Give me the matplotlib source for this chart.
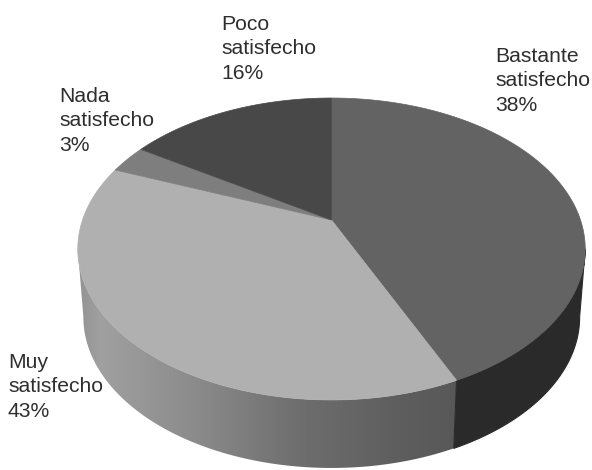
import numpy as np
import matplotlib
matplotlib.use("Agg")
import matplotlib.pyplot as plt
from matplotlib.patches import Polygon
from matplotlib.colors import LinearSegmentedColormap

plt.rcParams['font.family'] = ['Liberation Sans', 'DejaVu Sans']

# slice sizes as drawn (clockwise from 12 o'clock); the printed labels swap 38 and 43
slice_shares = [43.2, 37.8, 3, 16]
slice_colors = ['#636363', '#b0b0b0', '#7e7e7e', '#484848']
labels = ['Bastante\nsatisfecho\n38%', 'Muy\nsatisfecho\n43%', 'Nada\nsatisfecho\n3%', 'Poco\nsatisfecho\n16%']
label_xy = [(495, 47), (8, 353), (59, 87), (221, 15)]

# grey along the front wall of the light slice
wall_x = [70, 100, 200, 300, 400, 470]
wall_grey = ['#8e8e8e', '#a0a0a0', '#8a8a8a', '#6e6e6e', '#5e5e5e', '#575757']
wall_dark = '#2a2a2a'

# tilted disc seen in perspective
apex_x, apex_y = 331.5, 220
rx, ry, persp = 249, 145.4, 0.192
depth = 68
base_scale = 0.978


def project(theta):
    u, v = np.sin(theta), np.cos(theta)
    w = 1 + persp * v
    return apex_x + rx * u / w, apex_y - ry * v / w


def wall_outline(theta):
    # top rim, then back along the slightly narrower base rim
    px, py = project(theta)
    bx = apex_x + (px - apex_x) * base_scale
    return np.vstack([np.column_stack([px, py]), np.column_stack([bx[::-1], py[::-1] + depth])])


fig = plt.figure(figsize=(5.92, 4.70), dpi=100)
ax = fig.add_axes([0, 0, 1, 1])
ax.set_xlim(0, 592)
ax.set_ylim(470, 0)
ax.axis('off')

edges = np.cumsum([0] + slice_shares) / sum(slice_shares) * 2 * np.pi

# side wall, only the front half of the rim
t = np.linspace(0, 2 * np.pi, 1441)
x, y = project(t)
right_i, left_i = np.argmax(x), np.argmin(x)
front_t = t[right_i:left_i + 1]

split_t = edges[1]
dark_t = np.concatenate([front_t[front_t <= split_t], [split_t]])
light_t = np.concatenate([[split_t], front_t[front_t >= split_t]])

light_wall = Polygon(wall_outline(light_t), closed=True, fc='none', ec='none', transform=ax.transData)
ax.add_patch(light_wall)

stops = [(p - wall_x[0]) / (wall_x[-1] - wall_x[0]) for p in wall_x]
cmap = LinearSegmentedColormap.from_list('wall', list(zip(stops, wall_grey)))
im = ax.imshow(np.linspace(0, 1, 256)[None, :], cmap=cmap, aspect='auto',
               extent=(wall_x[0], wall_x[-1], 470, 200), zorder=1)
im.set_clip_path(light_wall)
ax.set_xlim(0, 592)
ax.set_ylim(470, 0)

ax.add_patch(Polygon(wall_outline(dark_t), closed=True, fc=wall_dark, ec=wall_dark, lw=0.8, zorder=1.5))

# top face
for i in range(len(slice_shares)):
    th = np.linspace(edges[i], edges[i + 1], 300)
    sx, sy = project(th)
    pts = np.vstack([[apex_x, apex_y], np.column_stack([sx, sy])])
    ax.add_patch(Polygon(pts, closed=True, fc=slice_colors[i], ec=slice_colors[i], lw=0.5, zorder=2))

for lab, (lx_, ly_) in zip(labels, label_xy):
    ax.text(lx_, ly_, lab, fontsize=15.2, color='#2e2e2e', ha='left', va='top', linespacing=1.36, zorder=3)

fig.savefig('out.png', dpi=100)
